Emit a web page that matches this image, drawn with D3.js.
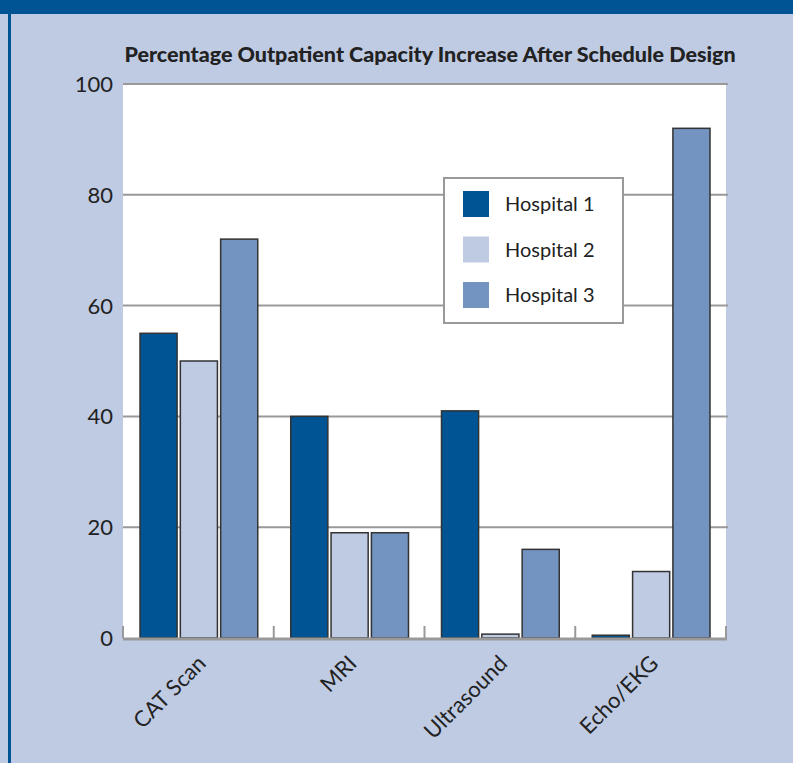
<!DOCTYPE html>
<html>
<head>
<meta charset="utf-8">
<script src="https://cdn.jsdelivr.net/npm/d3@7"></script>
<style>
  body { margin: 0; background: #bfcbe3; }
  svg { display: block; }
</style>
</head>
<body>
<div id="chart"></div>
<script>
var width = 793,
    height = 763;

var categories = ["CAT Scan", "MRI", "Ultrasound", "Echo/EKG"];
var seriesNames = ["Hospital 1", "Hospital 2", "Hospital 3"];
var hospital1 = [55, 40, 41, 0.5];
var hospital2 = [50, 19, 0.7, 12];
var hospital3 = [72, 19, 16, 92];
var yTicks = [0, 20, 40, 60, 80, 100];

var colors = ["#005493", "#bfcbe3", "#7393c1"];
var series = [hospital1, hospital2, hospital3];

var margin = {top: 84, right: 67, bottom: 125, left: 123};
var plotW = width - margin.left - margin.right,
    plotH = height - margin.top - margin.bottom;

var svg = d3.select("#chart").append("svg")
    .attr("width", width)
    .attr("height", height);

// frame: light blue bg, dark top band and left rule
svg.append("rect").attr("width", width).attr("height", height).attr("fill", "#bfcbe3");
svg.append("rect").attr("x", 0).attr("y", 0).attr("width", width).attr("height", 14).attr("fill", "#005493");
svg.append("rect").attr("x", 8).attr("y", 0).attr("width", 3).attr("height", height).attr("fill", "#005493");

svg.append("text")
    .attr("x", 430)
    .attr("y", 62)
    .attr("text-anchor", "middle")
    .style("font-family", "Lato, 'Open Sans', sans-serif")
    .style("font-weight", "900")
    .style("font-size", "21.5px")
    .attr("fill", "#222")
    .text("Percentage Outpatient Capacity Increase After Schedule Design");

var g = svg.append("g").attr("transform", "translate(" + margin.left + "," + margin.top + ")");

var x0 = d3.scaleBand().domain(categories).range([0, plotW]).paddingInner(0).paddingOuter(0);
var x1 = d3.scaleBand().domain(d3.range(3)).range([17, x0.bandwidth() - 16]).paddingInner(0.08);
var y = d3.scaleLinear().domain([0, 100]).range([plotH, 0]);

g.append("rect").attr("width", plotW).attr("height", plotH).attr("fill", "#fff");

// gridlines
g.selectAll(".grid")
    .data(yTicks.filter(function(d) { return d > 0; }))
    .enter().append("line")
    .attr("x1", 0).attr("x2", plotW + 2)
    .attr("y1", function(d) { return y(d); })
    .attr("y2", function(d) { return y(d); })
    .attr("stroke", "#999")
    .attr("stroke-width", 2);

// y labels
g.selectAll(".ylab")
    .data(yTicks)
    .enter().append("text")
    .attr("x", -10)
    .attr("y", function(d) { return y(d); })
    .attr("dy", "0.36em")
    .attr("text-anchor", "end")
    .style("font-family", "Lato, 'Open Sans', sans-serif")
    .style("font-size", "22px")
    .attr("fill", "#222")
    .text(function(d) { return d; });

// bars
categories.forEach(function(cat, i) {
    var grp = g.append("g").attr("transform", "translate(" + x0(cat) + ",0)");
    series.forEach(function(s, j) {
        grp.append("rect")
            .attr("x", x1(j))
            .attr("y", y(s[i]))
            .attr("width", x1.bandwidth())
            .attr("height", plotH - y(s[i]))
            .attr("fill", colors[j])
            .attr("stroke", "#333")
            .attr("stroke-width", 1.5);
    });
});

// x axis baseline and ticks
g.append("line")
    .attr("x1", 0).attr("x2", plotW + 1)
    .attr("y1", plotH + 1).attr("y2", plotH + 1)
    .attr("stroke", "#999").attr("stroke-width", 3);

var boundaries = categories.map(function(c) { return x0(c); }).concat([plotW]);
g.selectAll(".xtick")
    .data(boundaries)
    .enter().append("line")
    .attr("x1", function(d) { return d; })
    .attr("x2", function(d) { return d; })
    .attr("y1", plotH).attr("y2", plotH - 12)
    .attr("stroke", "#999").attr("stroke-width", 2);

g.selectAll(".xlab")
    .data(categories)
    .enter().append("text")
    .attr("transform", function(d) {
        return "translate(" + (x0(d) + x0.bandwidth() / 2 - 2) + "," + (plotH + 16) + ") rotate(-45)";
    })
    .attr("text-anchor", "end")
    .attr("dy", "0.7em")
    .style("font-family", "Lato, 'Open Sans', sans-serif")
    .style("font-size", "22px")
    .attr("fill", "#222")
    .text(function(d) { return d; });

// legend
var legend = svg.append("g").attr("transform", "translate(444,178)");
legend.append("rect")
    .attr("width", 179).attr("height", 145)
    .attr("fill", "#fff").attr("stroke", "#999").attr("stroke-width", 2);

var items = legend.selectAll(".item")
    .data(seriesNames)
    .enter().append("g")
    .attr("transform", function(d, i) { return "translate(19," + (13 + i * 45.5) + ")"; });

items.append("rect")
    .attr("width", 26).attr("height", 26)
    .attr("fill", function(d, i) { return colors[i]; });

items.append("text")
    .attr("x", 42).attr("y", 13)
    .attr("dy", "0.36em")
    .style("font-family", "Lato, 'Open Sans', sans-serif")
    .style("font-size", "20px")
    .attr("fill", "#222")
    .text(function(d) { return d; });
</script>
</body>
</html>
